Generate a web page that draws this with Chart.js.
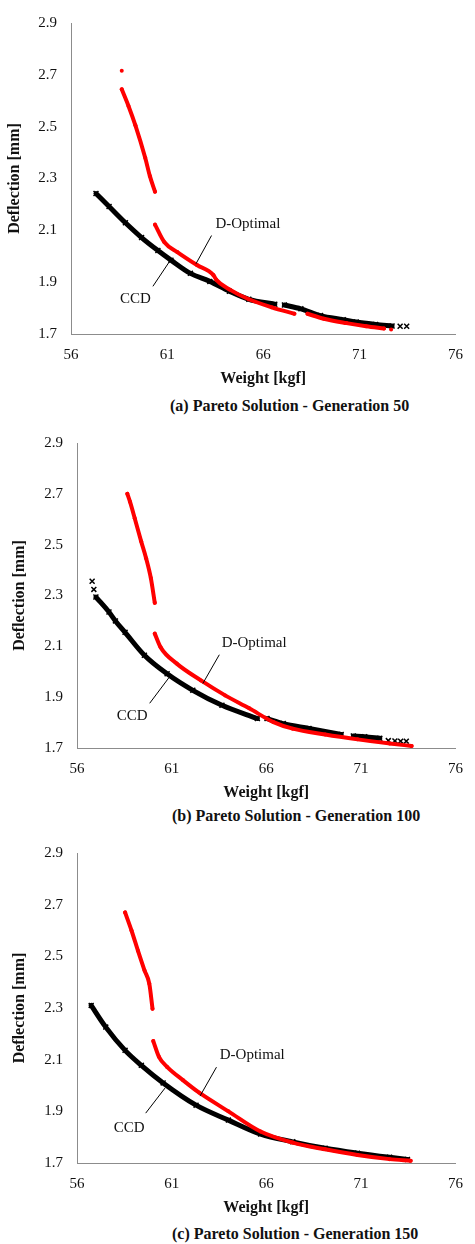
<!DOCTYPE html>
<html>
<head>
<meta charset="utf-8">
<script src="https://cdn.jsdelivr.net/npm/chart.js@4/dist/chart.umd.min.js"></script>
<style>
    body { margin: 0; background: #fff; }
    #page { position: relative; width: 475px; height: 1244px; font-family: 'Liberation Serif', 'Times New Roman', serif; }
    .panel { position: absolute; left: 0; }
    .caption { position: absolute; font-weight: bold; font-size: 16px; line-height: 19px; color: #111; white-space: nowrap; }
</style>
</head>
<body>
<div id="page">
    <canvas id="chartA" class="panel" width="475" height="390" style="top:0px"></canvas>
    <div class="caption" style="left:170px; top:396px">(a) Pareto Solution - Generation 50</div>
    <canvas id="chartB" class="panel" width="475" height="384" style="top:420px"></canvas>
    <div class="caption" style="left:172px; top:806px">(b) Pareto Solution - Generation 100</div>
    <canvas id="chartC" class="panel" width="475" height="389" style="top:830px"></canvas>
    <div class="caption" style="left:172px; top:1224px">(c) Pareto Solution - Generation 150</div>
</div>
<script>
const xTicks = [56, 61, 66, 71, 76];
const yTicks = [1.7, 1.9, 2.1, 2.3, 2.5, 2.7, 2.9];

// null = break in the front
// Generation 50
const g50DoptW = [58.64, null, 58.64, 58.99, 59.35, 59.86, 60.1, 60.37, null, 60.37, 60.86, 61.53, 62.55, 63.4, 63.56, 64.24, 65.25, 66.44, 67.62, null, 68.3, 69.15, 70.33, 71.35, 72.28, null, 72.65];
const g50DoptD = [2.716, null, 2.644, 2.58, 2.505, 2.38, 2.31, 2.249, null, 2.122, 2.054, 2.016, 1.966, 1.928, 1.909, 1.872, 1.834, 1.803, 1.778, null, 1.778, 1.759, 1.742, 1.73, 1.721, null, 1.717];
const g50CcdW = [57.3, 57.98, 58.83, 59.67, 60.52, 61.2, 62.21, 63.22, 64.24, 65.25, 66.6, null, 67.1, 67.96, 68.98, 70.16, 70.84, 71.85, 72.7, null, 73.12, null, 73.46];
const g50CcdD = [2.242, 2.192, 2.129, 2.072, 2.022, 1.985, 1.934, 1.903, 1.865, 1.834, 1.815, null, 1.812, 1.797, 1.771, 1.755, 1.746, 1.737, 1.731, null, 1.73, null, 1.73];

// Generation 100
const g100DoptW = [58.66, 58.8, 59.05, 59.39, 59.65, 59.9, 60.11, null, 60.11, 60.42, 61.27, 62.55, 63.83, 65.1, 66.38, 67.4, 69.11, 70.82, 72.52, 73.68];
const g100DoptD = [2.70, 2.669, 2.604, 2.513, 2.447, 2.369, 2.271, null, 2.15, 2.096, 2.032, 1.966, 1.907, 1.856, 1.802, 1.776, 1.753, 1.734, 1.718, 1.708];
const g100CcdW = [56.8, null, 56.89, null, 57.0, 57.69, 58.03, 58.54, 59.56, 60.76, 62.12, 63.66, 65.53, null, 66.04, 66.9, 68.26, 69.96, null, 70.6, 71.2, 72.0, null, 72.45, null, 72.8, null, 73.1, null, 73.4];
const g100CcdD = [2.356, null, 2.324, null, 2.294, 2.235, 2.2, 2.155, 2.065, 1.992, 1.927, 1.868, 1.816, null, 1.816, 1.796, 1.777, 1.753, null, 1.747, 1.744, 1.738, null, 1.729, null, 1.728, null, 1.727, null, 1.727];

// Generation 150
const g150DoptW = [58.54, 58.88, 59.22, 59.57, 59.82, 59.99, null, 60.03, 60.33, 60.76, 61.61, 62.46, 64.0, 65.7, 67.4, 69.11, 70.82, 72.52, 73.63];
const g150DoptD = [2.67, 2.6, 2.522, 2.445, 2.394, 2.297, null, 2.172, 2.111, 2.072, 2.02, 1.972, 1.9, 1.822, 1.779, 1.753, 1.731, 1.715, 1.709];
const g150CcdW = [56.75, 57.52, 58.54, 59.4, 60.55, 62.29, 64.0, 65.7, 67.4, 69.11, 70.82, 72.52, 73.46];
const g150CcdD = [2.31, 2.226, 2.136, 2.078, 2.01, 1.924, 1.866, 1.812, 1.782, 1.757, 1.738, 1.722, 1.714];

const FONT = "'Liberation Serif', 'Times New Roman', serif";
const AXIS_GREY = '#8c8c8c';

function toPoints(ws, ds) {
    return ws.map((w, i) => ({ x: w, y: ds[i] }));
}

// text labels + leader lines, given in data units
const calloutPlugin = {
    id: 'callouts',
    afterDatasetsDraw(chart, args, opts) {
        const ctx = chart.ctx;
        const xs = chart.scales.x, ys = chart.scales.y;
        ctx.save();
        ctx.strokeStyle = '#000';
        ctx.lineWidth = 1;
        (opts.lines || []).forEach(l => {
            ctx.beginPath();
            ctx.moveTo(xs.getPixelForValue(l[0]), ys.getPixelForValue(l[1]));
            ctx.lineTo(xs.getPixelForValue(l[2]), ys.getPixelForValue(l[3]));
            ctx.stroke();
        });
        ctx.fillStyle = '#111';
        ctx.font = '15px ' + FONT;
        ctx.textAlign = 'center';
        ctx.textBaseline = 'middle';
        (opts.labels || []).forEach(t => {
            ctx.fillText(t.text, xs.getPixelForValue(t.x), ys.getPixelForValue(t.y));
        });
        ctx.restore();
    }
};

function makePanel(id, dopt, ccd, p) {
    const ctx = document.getElementById(id).getContext('2d');
    return new Chart(ctx, {
        type: 'scatter',
        data: {
            datasets: [{
                label: 'D-Optimal',
                data: dopt,
                showLine: true,
                spanGaps: false,
                cubicInterpolationMode: 'monotone',
                borderColor: '#ff0000',
                backgroundColor: '#ff0000',
                borderWidth: 4,
                borderCapStyle: 'round',
                borderJoinStyle: 'round',
                pointRadius: 2,
                pointBorderWidth: 0,
                order: 0
            }, {
                label: 'CCD',
                data: ccd,
                showLine: true,
                spanGaps: false,
                cubicInterpolationMode: 'monotone',
                borderColor: '#000000',
                backgroundColor: '#000000',
                borderWidth: 5,
                borderCapStyle: 'round',
                borderJoinStyle: 'round',
                pointStyle: 'crossRot',
                pointRadius: 3.5,
                pointBorderWidth: 1.5,
                order: 1
            }]
        },
        options: {
            responsive: false,
            animation: false,
            events: [],
            layout: { padding: { top: p.top, right: p.right, left: 0, bottom: 0 } },
            plugins: {
                legend: { display: false },
                tooltip: { enabled: false },
                callouts: p.callouts
            },
            scales: {
                x: {
                    type: 'linear',
                    min: 56, max: 76,
                    afterBuildTicks: s => { s.ticks = xTicks.map(v => ({ value: v })); },
                    afterFit: s => { s.height = 56; },
                    grid: { display: false, drawTicks: false },
                    border: { color: AXIS_GREY, width: 1 },
                    ticks: { padding: 12, color: '#111', font: { family: FONT, size: 15 }, callback: v => String(v) },
                    title: { display: true, text: 'Weight [kgf]', color: '#111', padding: { top: 0, bottom: 2 },
                        font: { family: FONT, size: 16, weight: 'bold' } }
                },
                y: {
                    type: 'linear',
                    min: 1.7, max: 2.9,
                    afterBuildTicks: s => { s.ticks = yTicks.map(v => ({ value: v })); },
                    afterFit: s => { s.width = p.yWidth; },
                    grid: { display: false, drawTicks: false },
                    border: { color: AXIS_GREY, width: 1 },
                    ticks: { padding: 14, color: '#111', font: { family: FONT, size: 15 }, callback: v => v.toFixed(1) },
                    title: { display: true, text: 'Deflection [mm]', color: '#111', padding: { top: p.yTitlePad, bottom: 0 },
                        font: { family: FONT, size: 16, weight: 'bold' } }
                }
            }
        },
        plugins: [calloutPlugin]
    });
}

makePanel('chartA', toPoints(g50DoptW, g50DoptD), toPoints(g50CcdW, g50CcdD), {
    top: 15, right: 10, yWidth: 71, yTitlePad: 5,
    callouts: {
        labels: [{ text: 'D-Optimal', x: 65.2, y: 2.125 }, { text: 'CCD', x: 59.35, y: 1.835 }],
        lines: [[63.31, 2.080, 62.5, 1.971], [60.26, 1.884, 61.18, 1.986]]
    }
});

makePanel('chartB', toPoints(g100DoptW, g100DoptD), toPoints(g100CcdW, g100CcdD), {
    top: 21, right: 8, yWidth: 77, yTitlePad: 10,
    callouts: {
        labels: [{ text: 'D-Optimal', x: 65.36, y: 2.114 }, { text: 'CCD', x: 58.92, y: 1.825 }],
        lines: [[63.52, 2.067, 62.65, 1.954], [59.84, 1.876, 60.86, 1.977]]
    }
});

makePanel('chartC', toPoints(g150DoptW, g150DoptD), toPoints(g150CcdW, g150CcdD), {
    top: 22, right: 8, yWidth: 77, yTitlePad: 10,
    callouts: {
        labels: [{ text: 'D-Optimal', x: 65.26, y: 2.117 }, { text: 'CCD', x: 58.76, y: 1.835 }],
        lines: [[63.37, 2.071, 62.5, 1.959], [59.63, 1.893, 60.65, 1.99]]
    }
});
</script>
</body>
</html>
